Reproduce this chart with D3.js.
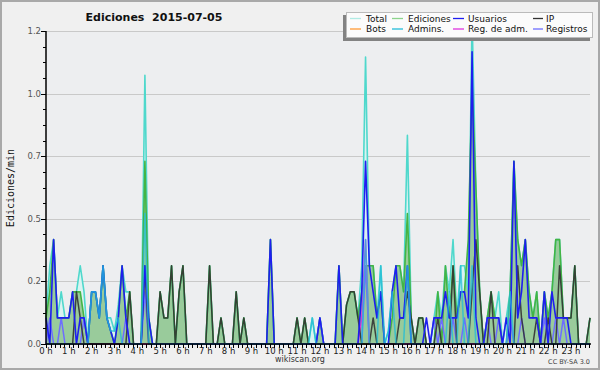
<!DOCTYPE html>
<html><head><meta charset="utf-8">
<script src="https://cdn.jsdelivr.net/npm/d3@7"></script>
<style>body{margin:0;background:#fff}svg{display:block}text{white-space:pre}</style>
</head><body>
<svg id="chart" width="600" height="370"></svg>
<script>
const titleText = "Ediciones  2015-07-05";
const yAxisLabel = "Ediciones/min";
const footerLeft = "wikiscan.org";
const footerRight = "CC BY-SA 3.0";
const hourTicks = [0,1,2,3,4,5,6,7,8,9,10,11,12,13,14,15,16,17,18,19,20,21,22,23];
const yTicks = [0, 0.24, 0.48, 0.72, 0.96, 1.2];
const legendNames = ["Total","Ediciones","Usuarios","IP","Bots","Admins.","Reg. de adm.","Registros"];

// 10-minute bins (144 per day), edits per minute
const total = [
0.1,0.3,0.4,0.1,0.2,0.1,0.1,0.2,0.2,0.3,0.2,0,
0.2,0.2,0.1,0.3,0.1,0.1,0.05,0.15,0.3,0.2,0.2,0,
0,0,1.03,0.1,0,0,0.2,0.1,0.1,0.3,0,0.2,
0.3,0,0,0,0,0,0,0.3,0,0,0.1,0,
0,0,0.2,0,0.1,0,0,0,0,0,0,0.4,
0,0,0,0,0,0,0.1,0,0.1,0,0.1,0,
0.1,0,0,0,0,0.3,0,0.15,0.2,0.2,0.1,0.3,
1.1,0.3,0.3,0.1,0.3,0,0.05,0.2,0.3,0.3,0.2,0.8,
0.1,0,0.1,0.1,0,0,0.1,0.2,0.1,0.3,0.2,0.4,
0.1,0.3,0.3,0.2,1.25,0.6,0.2,0,0.1,0.2,0.1,0.2,
0,0.1,0.2,0.7,0.4,0.3,0.4,0.2,0.1,0.2,0,0.2,
0.1,0.2,0.4,0.4,0.1,0.1,0.1,0.3,0,0,0,0.1];
const ediciones = [
0.1,0.2,0.4,0.1,0.1,0.1,0.1,0.2,0.2,0.2,0.1,0,
0.2,0.2,0.1,0.3,0.1,0.05,0,0.1,0.3,0.1,0.2,0,
0,0,0.7,0.1,0,0,0.2,0.1,0.1,0.3,0,0.2,
0.3,0,0,0,0,0,0,0.3,0,0,0.1,0,
0,0,0.2,0,0.1,0,0,0,0,0,0,0.4,
0,0,0,0,0,0,0.1,0,0.1,0,0,0,
0.1,0,0,0,0,0.3,0,0.15,0.2,0.2,0.1,0.2,
0.3,0.3,0.3,0.1,0.2,0,0,0.1,0.3,0.3,0.2,0.5,
0.1,0,0.1,0.1,0,0,0,0.2,0,0.3,0.1,0.3,
0.1,0.2,0.2,0.4,1.0,0.6,0.2,0,0.1,0.2,0.1,0.1,
0,0,0.2,0.7,0.4,0.3,0.4,0.2,0.1,0.2,0,0.2,
0.1,0.2,0.4,0.4,0.1,0.1,0.1,0.3,0,0,0,0.1];
const usuarios = [
0.1,0,0.4,0.1,0.1,0.1,0.1,0.2,0,0.1,0.1,0,
0.2,0.2,0.1,0.3,0.1,0.05,0,0.1,0.3,0.1,0,0,
0,0,0.3,0.1,0,0,0,0,0,0,0,0,
0,0,0,0,0,0,0,0,0,0,0,0,
0,0,0,0,0,0,0,0,0,0,0,0.4,
0,0,0,0,0,0,0,0,0,0,0,0,
0.1,0,0,0,0,0.3,0,0,0,0,0,0.2,
0.7,0.3,0.2,0.1,0.2,0,0,0.2,0.3,0.1,0.1,0.3,
0,0,0,0,0.1,0,0.1,0.1,0.1,0.2,0.1,0.1,
0.1,0.2,0.2,0.1,1.12,0.1,0,0,0.1,0.1,0.1,0.1,
0,0.1,0,0.7,0.1,0.2,0.4,0.1,0.1,0.1,0,0.2,
0,0.2,0.1,0.1,0.1,0.1,0,0,0,0,0,0];
const ip = [
0,0,0,0,0,0,0,0,0.2,0.1,0,0,
0,0,0,0,0,0,0,0,0,0,0.2,0,
0,0,0.3,0,0,0,0.2,0.1,0.1,0.3,0,0.2,
0.3,0,0,0,0,0,0,0.3,0,0,0.1,0,
0,0,0.2,0,0.1,0,0,0,0,0,0,0,
0,0,0,0,0,0,0.1,0,0.1,0,0,0,
0,0,0,0,0,0,0,0.15,0.2,0.2,0.1,0,
0,0,0.1,0,0,0,0,0,0,0.1,0.1,0.2,
0.1,0,0.1,0.1,0,0,0,0.1,0,0,0,0.3,
0,0,0,0,0.2,0.4,0.2,0,0,0.2,0,0,
0,0,0,0,0.3,0.1,0,0,0,0.1,0,0,
0.1,0,0,0.3,0.1,0.1,0.1,0.3,0,0,0,0.1];
const bots = [
0,0,0,0,0,0,0,0,0,0,0,0, 0,0,0,0,0,0,0,0,0,0,0,0,
0,0,0,0,0,0,0,0,0,0,0,0, 0,0,0,0,0,0,0,0,0,0,0,0,
0,0,0,0,0,0,0,0,0,0,0,0, 0,0,0,0,0,0,0,0,0,0,0,0,
0,0,0,0,0,0,0,0,0,0,0,0, 0,0,0,0,0,0,0,0,0,0,0,0,
0,0,0,0,0,0,0,0,0,0,0,0, 0,0,0,0,0,0,0,0,0,0,0,0,
0,0,0,0,0,0,0,0,0,0,0,0, 0,0,0,0,0,0,0,0,0,0,0,0];
const admins = [
0,0,0,0,0,0,0,0,0,0,0,0,
0.2,0.2,0.1,0.3,0.1,0.05,0.05,0.1,0,0,0,0,
0,0,0.5,0,0,0,0,0,0,0,0,0,
0,0,0,0,0,0,0,0,0,0,0,0,
0,0,0,0,0,0,0,0,0,0,0,0,
0,0,0,0,0,0,0,0,0,0,0.1,0,
0,0,0,0,0,0,0,0,0,0,0,0,
0.4,0,0,0,0.3,0,0.05,0.2,0,0,0,0.3,
0,0,0,0,0,0,0,0,0,0,0.2,0,
0,0.3,0,0,0.3,0,0,0,0,0,0,0,
0,0,0.2,0,0,0,0,0,0,0,0,0,
0,0,0,0,0,0,0,0,0,0,0,0];
const regAdm = [
0,0,0,0,0,0,0,0,0,0,0,0, 0,0,0,0,0,0,0,0,0,0,0,0,
0,0,0,0,0,0,0,0,0,0,0,0, 0,0,0,0,0,0,0,0,0,0,0,0,
0,0,0,0,0,0,0,0,0,0,0,0, 0,0,0,0,0,0,0,0,0,0,0,0,
0,0,0,0,0,0,0,0,0,0,0,0.1, 0.4,0,0,0,0,0,0,0,0,0,0,0,
0,0,0,0,0,0,0,0,0,0,0,0, 0,0,0,0,0,0,0,0,0,0,0,0,
0,0,0,0,0,0,0,0,0,0,0,0, 0,0,0,0,0,0,0,0,0,0,0,0];
const registros = [
0,0.1,0,0,0.1,0,0,0,0,0,0.1,0,
0,0,0,0,0,0,0,0,0,0.1,0,0,
0,0,0.2,0,0,0,0,0,0,0,0,0,
0,0,0,0,0,0,0,0,0,0,0,0,
0,0,0,0,0,0,0,0,0,0,0,0,
0,0,0,0,0,0,0,0,0,0,0,0,
0.1,0,0,0,0,0,0,0,0,0,0,0,
0.3,0,0,0,0,0,0,0,0,0,0,0,
0,0,0,0,0,0,0.1,0,0.1,0,0,0.1,
0,0,0.1,0,0,0,0,0,0.1,0,0,0.1,
0,0,0.1,0,0,0.1,0,0,0,0,0,0.1,
0,0,0.1,0,0.1,0,0,0,0,0,0,0];

const colors = {
  total: "#4fd8cc", totalFill: "#daf3f1", totalLegend: "#b0ebe4",
  edic: "#44b444", edicFill: "#96c896", edicLegend: "#8cd48c",
  usr: "#1e1ef0", ip: "#333333", bots: "#ff9933",
  adm: "#22bcd8", radm: "#dd33dd", reg: "#6d6dff"
};

const svg = d3.select("#chart");
const W = 600, H = 370;
const L = 46, R = 590, T = 31, B = 344;
const x = d3.scaleLinear().domain([0, total.length - 1]).range([L, R]);
const y = d3.scaleLinear().domain([0, 1.2]).range([B, T]);
const font = "'DejaVu Sans', sans-serif";

svg.append("rect").attr("x",1).attr("y",1).attr("width",W-2).attr("height",H-2)
  .attr("fill","#f0f0f0").attr("stroke","#a9a9a9").attr("stroke-width",2);
svg.append("rect").attr("x",L).attr("y",T).attr("width",R-L).attr("height",B-T).attr("fill","#edeef0");

// grid
svg.append("g").selectAll("line").data(yTicks.filter(d => d > 0)).join("line")
  .attr("x1",L).attr("x2",R).attr("y1",d => Math.round(y(d))+0.5).attr("y2",d => Math.round(y(d))+0.5)
  .attr("stroke","#c9c9c9").attr("stroke-width",1);

const area = d3.area().x((d,i) => x(i)).y0(B).y1(d => y(d));
const line = d3.line().x((d,i) => x(i)).y(d => y(d));

svg.append("path").datum(total).attr("d",area).attr("fill",colors.totalFill);
svg.append("path").datum(ediciones).attr("d",area).attr("fill",colors.edicFill).attr("fill-opacity",0.95);

function drawLine(data, color, w, op) {
  svg.append("path").datum(data).attr("d",line).attr("fill","none")
    .attr("stroke",color).attr("stroke-width",w).attr("stroke-opacity",op||1)
    .attr("stroke-linejoin","round");
}
drawLine(total, colors.total, 1.6);
drawLine(ediciones, colors.edic, 1.6);
drawLine(bots, colors.bots, 1.4);
drawLine(registros, colors.reg, 1.5);
drawLine(regAdm, colors.radm, 1.5);
drawLine(ip, colors.ip, 1.5, 0.9);
drawLine(usuarios, colors.usr, 1.6);
drawLine(admins, colors.adm, 1.6, 0.75);

// axes
const ax = svg.append("g").attr("stroke","#000");
ax.append("line").attr("x1",L).attr("x2",L).attr("y1",T).attr("y2",B+1).attr("stroke-width",1.5);
ax.append("line").attr("x1",L).attr("x2",R+1).attr("y1",B).attr("y2",B).attr("stroke-width",1.5);
const yMinor = d3.range(0, 1.2001, 0.06);
ax.selectAll(".ym").data(yMinor).join("line")
  .attr("x1",L-3).attr("x2",L).attr("y1",d => Math.round(y(d))+0.5).attr("y2",d => Math.round(y(d))+0.5);
ax.selectAll(".yM").data(yTicks).join("line")
  .attr("x1",L-5).attr("x2",L).attr("y1",d => Math.round(y(d))+0.5).attr("y2",d => Math.round(y(d))+0.5);
const xMinor = d3.range(0, total.length - 0.5, 1.2);
ax.selectAll(".xm").data(xMinor).join("line")
  .attr("x1",d => Math.round(x(d))+0.5).attr("x2",d => Math.round(x(d))+0.5).attr("y1",B).attr("y2",B+4);

svg.append("g").selectAll("text").data(yTicks).join("text")
  .attr("x",L-5).attr("y",d => y(d)+3).attr("text-anchor","end")
  .attr("font-family",font).attr("font-size",8.5).attr("fill","#555")
  .text(d => d3.format(".1f")(d));
svg.append("g").selectAll("text").data(hourTicks).join("text")
  .attr("x",d => x(d*6)).attr("y",354).attr("text-anchor","middle")
  .attr("font-family",font).attr("font-size",8.5).attr("fill","#222")
  .text(d => d + " h");

svg.append("text").attr("x",154).attr("y",21).attr("text-anchor","middle")
  .attr("xml:space","preserve")
  .attr("font-family",font).attr("font-weight","bold").attr("font-size",11).attr("fill","#111")
  .text(titleText);
svg.append("text").attr("transform","translate(13.5,188) rotate(-90)").attr("text-anchor","middle")
  .attr("font-family","'DejaVu Sans Mono', monospace").attr("font-size",10).attr("fill","#111")
  .text(yAxisLabel);
svg.append("text").attr("x",300).attr("y",362).attr("text-anchor","middle")
  .attr("font-family",font).attr("font-size",8).attr("fill","#333").text(footerLeft);
svg.append("text").attr("x",590).attr("y",364).attr("text-anchor","end")
  .attr("font-family",font).attr("font-size",6.5).attr("fill","#444").text(footerRight);

// legend
const lg = svg.append("g");
lg.append("rect").attr("x",343).attr("y",15).attr("width",247).attr("height",26).attr("fill","#828282");
lg.append("rect").attr("x",346.5).attr("y",12.5).attr("width",246).attr("height",25).attr("fill","#fbfbfb").attr("stroke","#bbb");
const legendColors = [colors.totalLegend, colors.edicLegend, colors.usr, colors.ip, colors.bots, colors.adm, colors.radm, colors.reg];
const colText = [366, 408, 468, 546];
const colSw = [[350,361],[392,403],[453,464],[533,543]];
legendNames.forEach((n,k) => {
  const c = k % 4, r = Math.floor(k / 4);
  const yy = 18.5 + r*10.5;
  lg.append("line").attr("x1",colSw[c][0]).attr("x2",colSw[c][1]).attr("y1",yy).attr("y2",yy)
    .attr("stroke",legendColors[k]).attr("stroke-width",1.3);
  lg.append("text").attr("x",colText[c]).attr("y",yy+3.3).attr("font-family",font)
    .attr("font-size",9).attr("fill","#111").text(n);
});
</script>
</body></html>
